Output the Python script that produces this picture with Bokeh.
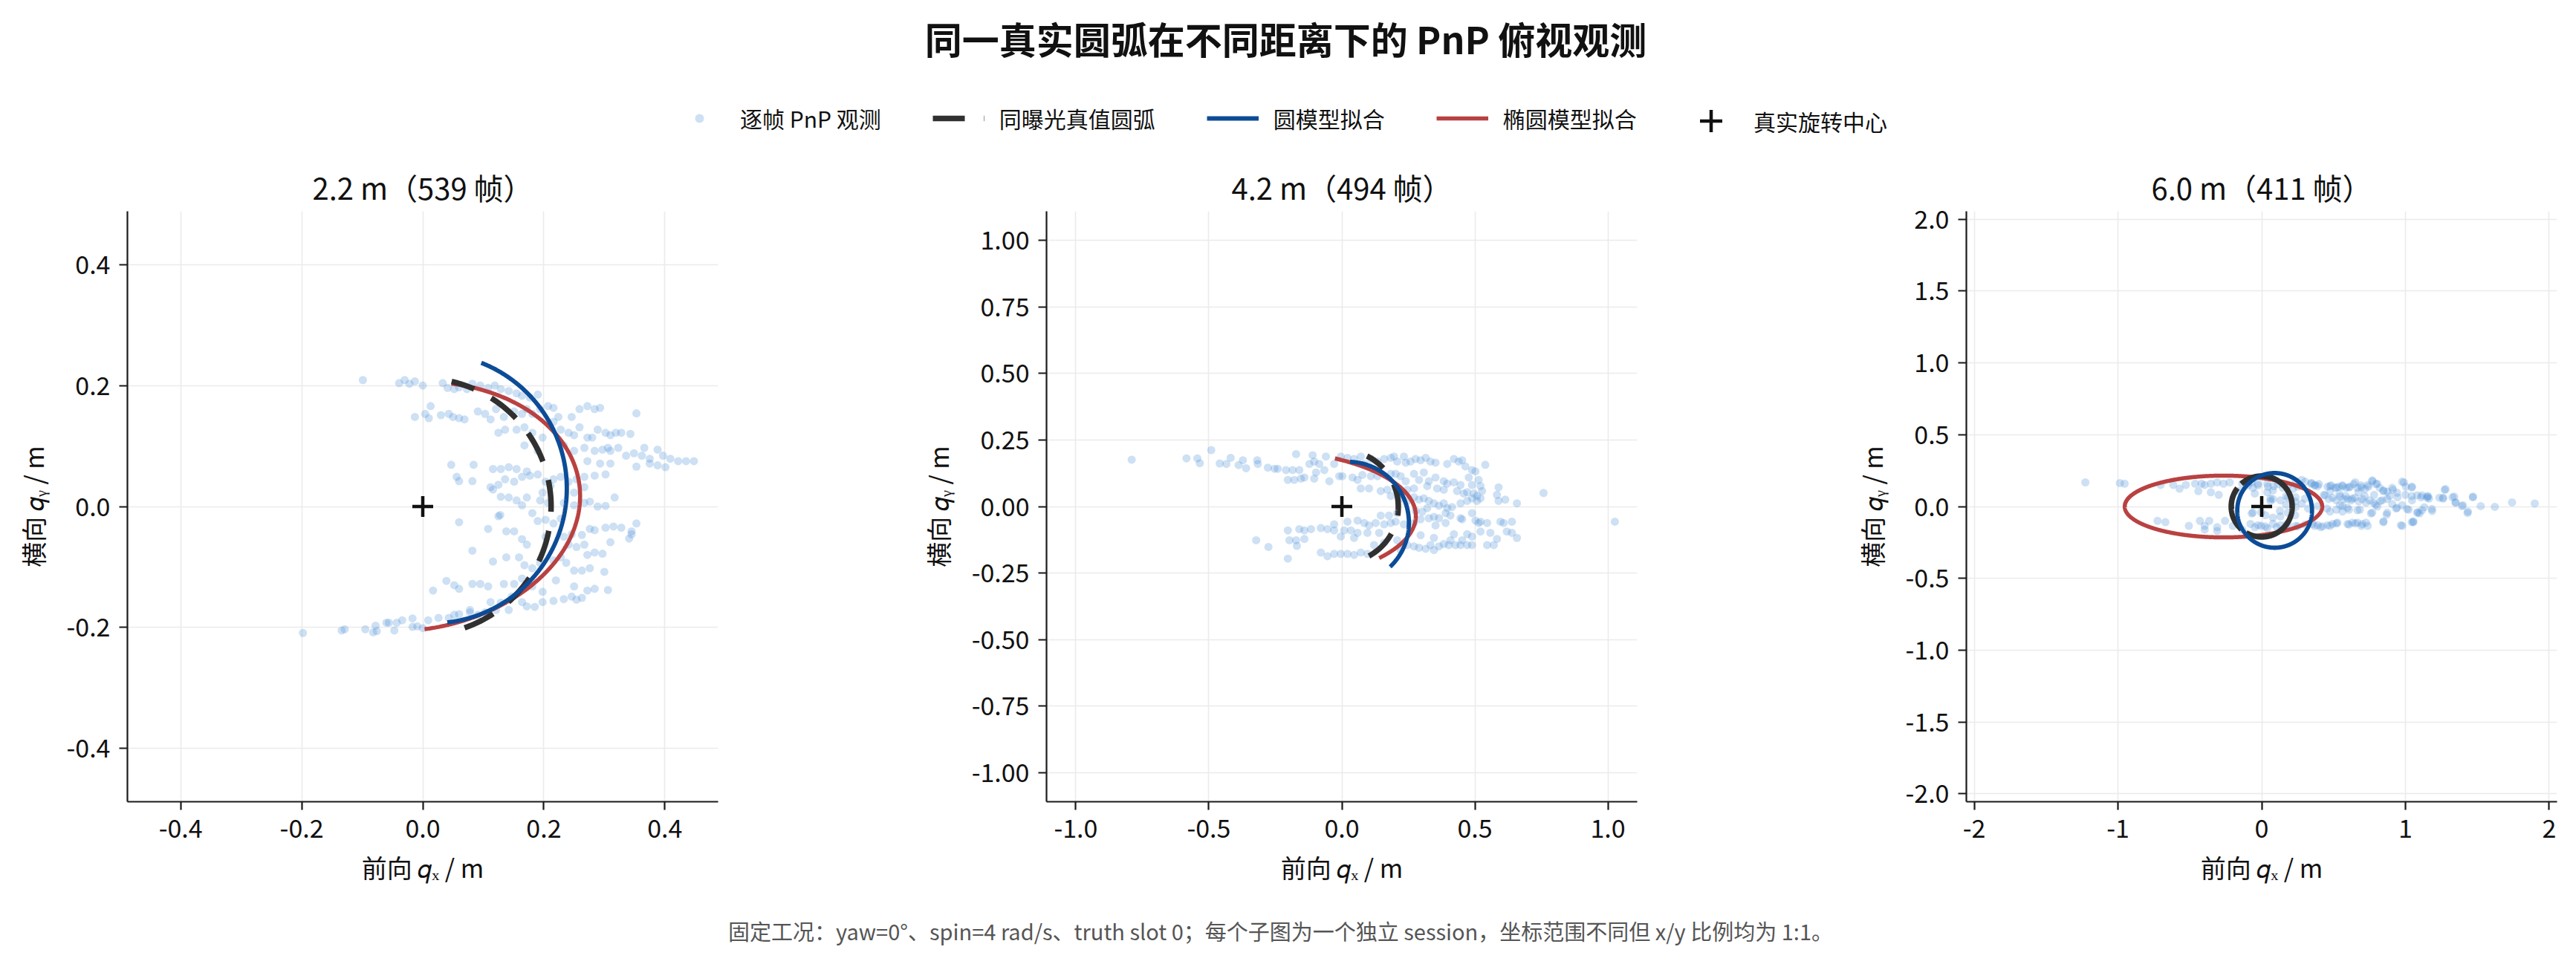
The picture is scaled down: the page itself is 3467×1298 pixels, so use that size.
import numpy as np
from bokeh.plotting import figure
from bokeh.models import (Range1d, FixedTicker, PrintfTickFormatter, Legend,
                          LegendItem, Label)
from bokeh.layouts import column, row
from bokeh.embed import file_html
from bokeh.resources import INLINE

FONT = "Noto Sans CJK SC"

# ---------------- texts ----------------
main_title = "同一真实圆弧在不同距离下的 PnP 俯视观测"
footnote = ("固定工况：yaw=0°、spin=4 rad/s、truth slot 0；每个子图为一个独立 session，"
            "坐标范围不同但 x/y 比例均为 1:1。")
panel_titles = ["2.2 m（539 帧）", "4.2 m（494 帧）", "6.0 m（411 帧）"]
legend_labels = ["逐帧 PnP 观测", "同曝光真值圆弧", "圆模型拟合", "椭圆模型拟合", "真实旋转中心"]
x_label = "前向 𝑞ₓ / m"
y_label = "横向 𝑞ᵧ / m"

# ---------------- axes ----------------
axis_limits = [0.488, 1.11, 2.055]
x_ticks = [[-0.4, -0.2, 0.0, 0.2, 0.4], [-1.0, -0.5, 0.0, 0.5, 1.0], [-2, -1, 0, 1, 2]]
y_ticks = [[-0.4, -0.2, 0.0, 0.2, 0.4],
           [-1.0, -0.75, -0.5, -0.25, 0.0, 0.25, 0.5, 0.75, 1.0],
           [-2.0, -1.5, -1.0, -0.5, 0.0, 0.5, 1.0, 1.5, 2.0]]
x_formats = ["%.1f", "%.1f", "%.0f"]
y_formats = ["%.1f", "%.2f", "%.1f"]

# ---------------- per-frame PnP observations (qx, qy) in m ----------------
obs_22m = [
    (-0.099, 0.209), (-0.039, 0.204), (-0.030, 0.209), (-0.022, 0.203), (-0.013, 0.207), (0.000, 0.200),
    (0.033, 0.204), (0.041, 0.196), (0.052, 0.194), (0.060, 0.197), (0.073, 0.194), (0.082, 0.203),
    (0.095, 0.200), (0.108, 0.196), (0.119, 0.200), (0.129, 0.194), (0.142, 0.191), (0.155, 0.187),
    (0.164, 0.183), (0.177, 0.180), (0.190, 0.185),
    (-0.013, 0.148), (0.004, 0.153), (0.010, 0.146), (0.013, 0.166), (0.030, 0.151), (0.043, 0.153),
    (0.050, 0.148), (0.060, 0.146), (0.069, 0.144), (0.091, 0.157), (0.103, 0.153), (0.112, 0.144),
    (0.121, 0.161), (0.134, 0.148), (0.151, 0.157), (0.164, 0.153), (0.172, 0.161), (0.181, 0.153),
    (0.194, 0.161), (0.207, 0.166), (0.216, 0.163), (0.224, 0.148), (0.246, 0.148), (0.259, 0.161),
    (0.272, 0.166), (0.284, 0.161), (0.293, 0.163), (0.353, 0.154),
    (0.125, 0.122), (0.136, 0.127), (0.155, 0.127), (0.168, 0.131), (0.181, 0.122), (0.198, 0.114),
    (0.216, 0.140), (0.228, 0.127), (0.241, 0.122), (0.250, 0.118), (0.259, 0.131), (0.272, 0.114),
    (0.280, 0.114), (0.289, 0.127), (0.302, 0.122), (0.310, 0.118), (0.319, 0.122), (0.328, 0.122),
    (0.343, 0.120), (0.306, 0.097),
    (0.168, 0.101), (0.190, 0.092), (0.233, 0.101), (0.250, 0.092), (0.267, 0.097), (0.284, 0.092),
    (0.297, 0.094), (0.310, 0.092), (0.323, 0.097), (0.336, 0.084), (0.349, 0.088), (0.362, 0.084),
    (0.375, 0.079), (0.388, 0.094), (0.397, 0.084), (0.409, 0.079), (0.422, 0.075), (0.435, 0.075),
    (0.448, 0.075), (0.366, 0.097), (0.272, 0.075), (0.293, 0.071), (0.310, 0.071), (0.353, 0.066),
    (0.375, 0.071), (0.388, 0.068), (0.401, 0.065), (0.047, 0.069), (0.084, 0.069), (0.116, 0.062),
    (0.129, 0.062), (0.142, 0.065), (0.155, 0.062), (0.172, 0.058),
    (0.056, 0.049), (0.060, 0.042), (0.082, 0.042), (0.112, 0.032), (0.116, 0.028), (0.125, 0.036),
    (0.136, 0.045), (0.151, 0.041), (0.164, 0.049), (0.177, 0.051), (0.190, 0.053), (0.203, 0.041),
    (0.216, 0.045), (0.228, 0.049), (0.241, 0.041), (0.254, 0.045), (0.267, 0.049), (0.284, 0.051),
    (0.302, 0.053), (0.198, 0.023), (0.211, 0.034), (0.250, 0.023), (0.267, 0.032),
    (0.129, 0.016), (0.142, 0.015), (0.155, 0.010), (0.172, 0.015), (0.194, 0.010), (0.207, 0.006),
    (0.233, 0.006), (0.250, 0.002), (0.267, 0.006), (0.276, 0.008), (0.289, 0.000), (0.302, 0.001),
    (0.317, 0.015), (0.164, 0.002), (0.181, -0.011), (0.128, -0.014),
    (0.060, -0.026), (0.108, -0.037), (0.125, -0.016), (0.138, -0.041), (0.151, -0.041), (0.190, -0.024),
    (0.203, -0.022), (0.216, -0.028), (0.228, -0.020), (0.246, -0.046), (0.263, -0.047), (0.276, -0.037),
    (0.284, -0.039), (0.302, -0.035), (0.315, -0.033), (0.328, -0.035), (0.345, -0.041), (0.353, -0.028),
    (0.341, -0.053),
    (0.082, -0.073), (0.164, -0.054), (0.172, -0.063), (0.203, -0.050), (0.233, -0.050), (0.241, -0.063),
    (0.254, -0.067), (0.267, -0.063), (0.284, -0.076), (0.297, -0.078), (0.310, -0.059), (0.345, -0.046),
    (0.116, -0.091), (0.138, -0.084), (0.159, -0.084), (0.168, -0.097), (0.181, -0.102), (0.194, -0.093),
    (0.216, -0.089), (0.228, -0.084), (0.237, -0.093), (0.250, -0.106), (0.263, -0.106), (0.276, -0.102),
    (0.300, -0.108), (0.272, -0.080),
    (0.017, -0.139), (0.039, -0.123), (0.052, -0.130), (0.060, -0.136), (0.082, -0.128), (0.095, -0.128),
    (0.108, -0.132), (0.134, -0.128), (0.151, -0.128), (0.164, -0.119), (0.181, -0.132), (0.198, -0.141),
    (0.220, -0.122), (0.250, -0.132), (0.272, -0.139), (0.284, -0.136), (0.306, -0.138),
    (0.112, -0.158), (0.129, -0.159), (0.147, -0.149), (0.164, -0.158), (0.172, -0.165), (0.185, -0.166),
    (0.198, -0.158), (0.216, -0.156), (0.233, -0.153), (0.246, -0.149), (0.254, -0.154), (0.263, -0.151),
    (0.078, -0.171), (0.121, -0.171), (0.142, -0.171),
    (-0.017, -0.185), (0.009, -0.188), (0.026, -0.184), (0.043, -0.184), (0.052, -0.179), (0.060, -0.178),
    (0.078, -0.175), (0.091, -0.179), (0.103, -0.175), (-0.078, -0.197), (-0.060, -0.192), (-0.047, -0.205),
    (-0.034, -0.188), (-0.017, -0.199), (-0.009, -0.198), (0.000, -0.201), (-0.043, -0.192), (-0.095, -0.203),
    (-0.082, -0.208), (-0.076, -0.206), (-0.056, -0.192), (-0.134, -0.205), (-0.129, -0.203), (-0.198, -0.209),
]

obs_42m = [
    (-0.790, 0.176), (-0.584, 0.181), (-0.543, 0.181), (-0.534, 0.163), (-0.491, 0.212), (-0.459, 0.162),
    (-0.434, 0.160), (-0.418, 0.183), (-0.388, 0.156), (-0.372, 0.174), (-0.360, 0.144), (-0.318, 0.174),
    (-0.316, 0.160), (-0.278, 0.146), (-0.253, 0.142), (-0.241, 0.142), (-0.210, 0.137), (-0.185, 0.137),
    (-0.172, 0.197), (-0.160, 0.137), (-0.141, 0.109), (-0.122, 0.160), (-0.110, 0.193), (-0.104, 0.169),
    (-0.097, 0.128), (-0.085, 0.160), (-0.066, 0.137), (-0.060, 0.188), (-0.029, 0.160), (-0.010, 0.114),
    (-0.004, 0.188), (0.021, 0.183), (0.046, 0.179), (0.071, 0.188), (0.084, 0.160), (0.109, 0.179),
    (0.134, 0.169), (0.159, 0.179), (0.184, 0.183), (0.196, 0.188), (0.208, 0.169), (0.233, 0.188),
    (0.240, 0.165), (0.258, 0.169), (0.277, 0.179), (0.296, 0.174), (0.315, 0.183), (0.333, 0.169),
    (0.352, 0.165), (0.396, 0.160), (0.421, 0.179), (0.439, 0.169), (0.452, 0.174), (0.464, 0.151),
    (0.489, 0.137), (0.502, 0.132), (0.539, 0.157),
    (-0.203, 0.100), (-0.179, 0.100), (-0.154, 0.105), (-0.104, 0.105), (-0.047, 0.095), (0.002, 0.114),
    (0.040, 0.109), (0.059, 0.100), (0.077, 0.119), (0.109, 0.114), (0.134, 0.114), (0.184, 0.123),
    (0.202, 0.123), (0.221, 0.114), (0.240, 0.095), (0.271, 0.123), (0.290, 0.100), (0.308, 0.128),
    (0.327, 0.095), (0.352, 0.109), (0.383, 0.095), (0.396, 0.086), (0.421, 0.091), (0.446, 0.081),
    (0.477, 0.109), (0.489, 0.081), (0.514, 0.100), (0.521, 0.077), (0.527, 0.058), (0.589, 0.072),
    (0.583, 0.044), (0.071, 0.068), (0.102, 0.068), (0.146, 0.058), (0.171, 0.063), (0.202, 0.068),
    (0.246, 0.063), (0.271, 0.068), (0.321, 0.077), (0.358, 0.068), (0.383, 0.063), (0.433, 0.058),
    (0.458, 0.049), (0.471, 0.054), (0.496, 0.049), (0.508, 0.040), (0.758, 0.051),
    (0.184, 0.040), (0.221, 0.031), (0.246, 0.021), (0.271, 0.035), (0.290, 0.026), (0.308, 0.031),
    (0.327, 0.021), (0.346, 0.012), (0.365, 0.003), (0.383, 0.012), (0.396, -0.006), (0.414, -0.002),
    (0.446, 0.012), (0.471, 0.021), (0.489, 0.031), (0.508, 0.021), (0.521, 0.031), (0.589, 0.021),
    (0.614, 0.026), (0.658, 0.012), (0.146, -0.034), (0.177, -0.034), (0.208, -0.025), (0.277, -0.016),
    (0.302, -0.020), (0.321, -0.006), (0.346, -0.039), (0.365, -0.044), (0.390, -0.025), (0.408, -0.034),
    (0.446, -0.044), (0.489, -0.025), (0.521, -0.057), (0.546, -0.062), (0.596, -0.057), (0.608, -0.062),
    (0.639, -0.057), (1.026, -0.057),
    (-0.029, -0.067), (0.021, -0.057), (0.059, -0.053), (0.084, -0.062), (0.102, -0.071), (0.127, -0.062),
    (0.159, -0.067), (0.184, -0.062), (0.202, -0.057), (0.233, -0.067), (0.271, -0.062), (0.296, -0.048),
    (0.327, -0.044), (0.352, -0.071), (0.390, -0.062), (0.452, -0.048), (0.502, -0.053), (0.514, -0.062),
    (-0.203, -0.090), (-0.160, -0.085), (-0.141, -0.090), (-0.116, -0.085), (-0.079, -0.081), (-0.054, -0.085),
    (-0.029, -0.090), (0.009, -0.090), (0.034, -0.090), (0.059, -0.099),
    (-0.322, -0.127), (-0.197, -0.127), (-0.172, -0.127), (-0.141, -0.122), (-0.004, -0.113), (0.046, -0.118),
    (0.096, -0.099), (0.140, -0.099), (0.296, -0.108), (0.346, -0.118), (0.421, -0.104), (0.471, -0.104),
    (0.489, -0.113), (0.521, -0.094), (0.558, -0.099), (0.583, -0.122), (0.620, -0.094), (0.639, -0.099),
    (0.658, -0.118), (0.408, -0.127), (0.452, -0.127),
    (-0.276, -0.152), (-0.169, -0.148), (-0.203, -0.196), (-0.079, -0.173), (-0.054, -0.187), (-0.029, -0.178),
    (-0.004, -0.178), (0.021, -0.178), (0.046, -0.182), (0.071, -0.173), (0.096, -0.178), (0.121, -0.145),
    (0.159, -0.136), (0.208, -0.127), (0.246, -0.145), (0.271, -0.150), (0.290, -0.155), (0.315, -0.159),
    (0.333, -0.145), (0.346, -0.164), (0.365, -0.150), (0.383, -0.141), (0.402, -0.145), (0.427, -0.145),
    (0.446, -0.145), (0.471, -0.145), (0.489, -0.145), (0.546, -0.145), (0.571, -0.145), (0.221, -0.164),
]

obs_60m = [
    (-1.227, 0.168), (-0.987, 0.163), (-0.954, 0.159), (-0.703, 0.150), (-0.616, 0.150), (-0.572, 0.124),
    (-0.528, 0.150), (-0.463, 0.159), (-0.419, 0.159), (-0.397, 0.150), (-0.354, 0.159), (-0.310, 0.168),
    (-0.266, 0.159), (-0.223, 0.168), (-0.135, 0.159), (-0.070, 0.168), (-0.026, 0.159), (0.039, 0.159),
    (0.083, 0.142), (0.148, 0.159), (0.236, 0.176), (0.279, 0.185), (0.345, 0.159), (0.367, 0.150),
    (0.389, 0.142), (0.476, 0.142), (0.520, 0.133), (0.563, 0.142), (0.607, 0.133), (0.651, 0.168),
    (0.694, 0.133), (0.738, 0.150), (0.771, 0.176), (0.803, 0.159), (0.847, 0.107), (0.913, 0.116),
    (0.989, 0.168), (1.044, 0.133), (1.153, 0.073), (1.273, 0.116), (1.328, 0.064), (1.469, 0.064),
    (1.742, 0.029), (1.900, 0.021), (1.622, -0.002), (1.524, 0.003), (1.432, -0.045), (1.393, 0.003),
    (1.349, 0.029), (1.262, 0.055), (1.186, -0.031), (1.164, 0.055), (1.098, -0.048), (1.044, -0.109),
    (0.978, -0.135), (0.869, -0.057), (0.847, -0.109),
    (-0.441, 0.107), (-0.354, 0.099), (-0.299, 0.081), (-0.157, 0.107), (-0.048, 0.090), (0.039, 0.099),
    (0.061, 0.055), (0.170, 0.073), (0.236, 0.064), (0.301, 0.055), (0.432, 0.081), (0.476, 0.107),
    (0.541, 0.090), (0.585, 0.073), (0.629, 0.055), (0.673, 0.099), (0.716, 0.073), (0.782, 0.081),
    (0.825, 0.038), (0.891, 0.073), (0.945, 0.064), (1.000, 0.081), (1.044, 0.073), (1.109, 0.064),
    (-0.070, -0.048), (-0.004, -0.040), (0.061, 0.038), (0.127, -0.031), (0.170, 0.012), (0.236, -0.005),
    (0.279, 0.021), (0.323, -0.014), (0.389, 0.003), (0.454, -0.014), (0.520, -0.022), (0.563, 0.003),
    (0.607, -0.022), (0.683, -0.022), (0.760, -0.048), (0.793, 0.012), (0.935, -0.014), (1.022, -0.022),
    (1.087, -0.040), (1.131, -0.005),
    (-0.725, -0.100), (-0.670, -0.109), (-0.507, -0.135), (-0.430, -0.100), (-0.397, -0.135), (-0.365, -0.100),
    (-0.310, -0.144), (-0.255, -0.100), (-0.201, -0.135), (-0.135, -0.161), (-0.048, -0.144), (-0.004, -0.135),
    (0.039, -0.152), (0.105, -0.144), (0.170, -0.126), (0.236, -0.135), (0.301, -0.126), (0.367, -0.135),
    (0.410, -0.144), (0.476, -0.135), (0.520, -0.118), (0.607, -0.126), (0.651, -0.118), (0.694, -0.135),
    (0.738, -0.135), (1.055, -0.109), (-0.397, -0.161), (-0.310, -0.170),
    # dense cluster to the right of the true centre
    (0.458, 0.138), (0.484, 0.147), (0.510, 0.130), (0.536, 0.138), (0.562, 0.147), (0.588, 0.130),
    (0.614, 0.138), (0.640, 0.156), (0.666, 0.130), (0.692, 0.147), (0.718, 0.121), (0.743, 0.138),
    (0.769, 0.182), (0.795, 0.156), (0.821, 0.130), (0.847, 0.112), (0.873, 0.104), (0.908, 0.130),
    (0.942, 0.095), (0.977, 0.173), (1.003, 0.138), (1.046, 0.138), (1.081, 0.078), (1.115, 0.078),
    (1.158, 0.069), (1.279, 0.121), (1.340, 0.069), (1.470, 0.069), (0.303, 0.173), (0.346, 0.164),
    (0.372, 0.147), (0.398, 0.156),
    (0.441, 0.078), (0.467, 0.052), (0.493, 0.061), (0.519, 0.043), (0.545, 0.069), (0.571, 0.052),
    (0.597, 0.052), (0.622, 0.043), (0.648, 0.061), (0.674, 0.035), (0.700, 0.052), (0.726, 0.026),
    (0.752, 0.043), (0.778, 0.026), (0.804, 0.000), (0.839, 0.043), (0.873, 0.052), (0.908, 0.017),
    (0.942, -0.009), (0.977, 0.009), (1.011, -0.017), (1.046, 0.043), (1.081, -0.043), (1.115, -0.026),
    (1.150, 0.061), (1.184, -0.017), (1.236, 0.061), (1.262, 0.061), (1.349, 0.026), (1.400, 0.009),
    (1.435, -0.035), (0.873, -0.043), (0.769, -0.043), (0.666, -0.026), (0.562, -0.035), (0.475, -0.035),
    (0.545, 0.009), (0.597, -0.009),
    (0.354, -0.121), (0.389, -0.130), (0.424, -0.138), (0.458, -0.130), (0.493, -0.121), (0.527, -0.112),
    (0.597, -0.121), (0.631, -0.112), (0.666, -0.112), (0.700, -0.121), (0.726, -0.112), (0.847, -0.104),
    (0.968, -0.130), (1.055, -0.104),
    # points around the true centre
    (-0.095, 0.147), (-0.061, 0.130), (-0.026, 0.147), (0.043, 0.138), (0.078, 0.112), (0.112, 0.156),
    (0.147, 0.130), (0.182, 0.147), (0.216, 0.121), (0.251, 0.138), (0.078, 0.052), (0.130, 0.043),
    (0.182, 0.061), (0.233, 0.035), (-0.061, -0.043), (0.026, -0.061), (0.078, -0.078), (0.130, -0.069),
    (0.182, -0.043), (0.233, -0.061), (-0.078, -0.121), (-0.026, -0.130), (0.026, -0.138), (0.078, -0.121),
    (0.130, -0.130), (0.182, -0.121), (0.251, -0.138),
]
observations = [obs_22m, obs_42m, obs_60m]

# ---------------- true rotation centre ----------------
center_x = [0.0, 0.0, 0.0]
center_y = [0.0, 0.0, 0.0]

# ---------------- truth arc (same exposure), circle about the true centre ----------------
truth_radius = [0.212, 0.212, 0.212]
truth_start_deg = [-71.0, -61.3, -50.0]
truth_end_deg = [77.0, 63.5, 800.0]

# ---------------- circle-model fit ----------------
circle_cx = [0.015, 0.023, 0.090]
circle_cy = [0.030, -0.061, -0.027]
circle_r = [0.223, 0.229, 0.260]
circle_start_deg = [-83.4, -46.3, 0.0]
circle_end_deg = [68.5, 88.0, 360.0]

# ---------------- ellipse-model fit ----------------
ellipse_cx = [-0.027, -0.300, -0.266]
ellipse_cy = [0.000, -0.035, 0.000]
ellipse_a = [0.288, 0.578, 0.687]
ellipse_b = [0.205, 0.245, 0.215]
ellipse_tilt_deg = [7.0, 0.0, 0.0]
ellipse_start_deg = [-89.0, -40.4, 0.0]
ellipse_end_deg = [70.0, 61.7, 360.0]

# ---------------- styles ----------------
OBS_COLOR = "#4a90d9"
TRUTH_COLOR = "#303030"
CIRCLE_COLOR = "#0c4c97"
ELLIPSE_COLOR = "#b94141"
CENTER_COLOR = "#111111"
TRUTH_DASH = "43 26"


def conic_path(cx, cy, a, b, tilt_deg, t0_deg, t1_deg):
    n = int(abs(t1_deg - t0_deg) * 3) + 2
    t = np.radians(np.linspace(t0_deg, t1_deg, n))
    phi = np.radians(tilt_deg)
    xs = cx + a * np.cos(t) * np.cos(phi) - b * np.sin(t) * np.sin(phi)
    ys = cy + a * np.cos(t) * np.sin(phi) + b * np.sin(t) * np.cos(phi)
    return xs, ys


FRAME = 795
borders = [(171, 20), (422, 20), (423, 8)]
TOTAL_W = sum(l + FRAME + r for l, r in borders)


def style_axis(ax, label, standoff):
    ax.axis_label = label
    ax.axis_line_color = "#1a1a1a"
    ax.axis_line_width = 2.2
    ax.major_tick_line_color = "#1a1a1a"
    ax.major_tick_line_width = 2.2
    ax.major_tick_out = 11
    ax.major_tick_in = 0
    ax.minor_tick_line_color = None
    ax.major_label_text_font = FONT
    ax.major_label_text_font_size = "34px"
    ax.major_label_text_color = "#111111"
    ax.major_label_standoff = 12
    ax.axis_label_text_font = FONT
    ax.axis_label_text_font_size = "34px"
    ax.axis_label_text_font_style = "normal"
    ax.axis_label_text_color = "#111111"
    ax.axis_label_standoff = standoff


panels = []
for i in range(3):
    lim = axis_limits[i]
    p = figure(frame_width=FRAME, frame_height=FRAME,
               x_range=Range1d(-lim, lim), y_range=Range1d(-lim, lim),
               toolbar_location=None, output_backend="svg",
               min_border_left=borders[i][0], min_border_right=borders[i][1],
               min_border_top=76, min_border_bottom=145,
               title=panel_titles[i])
    p.outline_line_color = None
    p.background_fill_color = "white"
    p.title.align = "center"
    p.title.text_font = FONT
    p.title.text_font_size = "40px"
    p.title.text_font_style = "normal"
    p.title.text_color = "#111111"
    p.title.standoff = 8

    p.xaxis.ticker = FixedTicker(ticks=x_ticks[i])
    p.yaxis.ticker = FixedTicker(ticks=y_ticks[i])
    p.xaxis.formatter = PrintfTickFormatter(format=x_formats[i])
    p.yaxis.formatter = PrintfTickFormatter(format=y_formats[i])
    style_axis(p.xaxis[0], x_label, 12)
    style_axis(p.yaxis[0], y_label, 18)
    p.grid.grid_line_color = "#ebebeb"
    p.grid.grid_line_width = 1.6

    ox = [pt[0] for pt in observations[i]]
    oy = [pt[1] for pt in observations[i]]
    p.scatter(ox, oy, size=11, fill_color=OBS_COLOR, fill_alpha=0.28, line_color=None)

    ex, ey = conic_path(ellipse_cx[i], ellipse_cy[i], ellipse_a[i], ellipse_b[i],
                        ellipse_tilt_deg[i], ellipse_start_deg[i], ellipse_end_deg[i])
    p.line(ex, ey, line_color=ELLIPSE_COLOR, line_width=5.5)

    tx, ty = conic_path(center_x[i], center_y[i], truth_radius[i], truth_radius[i], 0.0,
                        truth_start_deg[i], truth_end_deg[i])
    p.line(tx, ty, line_color=TRUTH_COLOR, line_width=7.5, line_dash=TRUTH_DASH)

    cxs, cys = conic_path(circle_cx[i], circle_cy[i], circle_r[i], circle_r[i], 0.0,
                          circle_start_deg[i], circle_end_deg[i])
    p.line(cxs, cys, line_color=CIRCLE_COLOR, line_width=5.8)

    p.scatter([center_x[i]], [center_y[i]], marker="cross", size=28,
              line_color=CENTER_COLOR, line_width=4.5)
    panels.append(p)

# ---------------- header: title + legend ----------------
HDR_H = 208
hdr = figure(width=TOTAL_W, height=HDR_H, x_range=Range1d(0, TOTAL_W), y_range=Range1d(HDR_H, 0),
             toolbar_location=None, output_backend="svg", x_axis_type=None, y_axis_type=None,
             min_border=0)
hdr.outline_line_color = None
hdr.add_layout(Label(x=1730, y=50, text=main_title, text_align="center",
                     text_baseline="middle", text_font=FONT, text_font_size="50px",
                     text_font_style="bold", text_color="#111111"))

# legend-only renderers (no visible data)
nan = [float("nan")]
r_obs = hdr.scatter(x=nan, y=nan, size=11, fill_color=OBS_COLOR, fill_alpha=0.28, line_color=None)
r_truth = hdr.line(x=nan, y=nan, line_color=TRUTH_COLOR, line_width=7.5, line_dash=TRUTH_DASH)
r_circle = hdr.line(x=nan, y=nan, line_color=CIRCLE_COLOR, line_width=5.8)
r_ellipse = hdr.line(x=nan, y=nan, line_color=ELLIPSE_COLOR, line_width=5.5)
r_center = hdr.scatter(x=nan, y=nan, marker="cross", size=28, line_color=CENTER_COLOR, line_width=4.5)

common = dict(orientation="horizontal", padding=0, margin=0, border_line_color=None,
              background_fill_alpha=0, label_text_font=FONT, label_text_font_size="30px",
              label_text_color="#111111", label_standoff=20, spacing=69)
leg_a = Legend(items=[LegendItem(label=legend_labels[0], renderers=[r_obs]),
                      LegendItem(label=legend_labels[1], renderers=[r_truth]),
                      LegendItem(label=legend_labels[2], renderers=[r_circle]),
                      LegendItem(label=legend_labels[3], renderers=[r_ellipse])],
               location=(906, 27), glyph_width=70, glyph_height=30, **common)
leg_b = Legend(items=[LegendItem(label=legend_labels[4], renderers=[r_center])],
               location=(2265, 8), glyph_width=75, glyph_height=75, **common)
hdr.add_layout(leg_a)
hdr.add_layout(leg_b)

# ---------------- footer ----------------
FT_H = 56
ftr = figure(width=TOTAL_W, height=FT_H, x_range=Range1d(0, TOTAL_W), y_range=Range1d(FT_H, 0),
             toolbar_location=None, output_backend="svg", x_axis_type=None, y_axis_type=None,
             min_border=0)
ftr.outline_line_color = None
ftr.add_layout(Label(x=1723, y=28, text=footnote, text_align="center",
                     text_baseline="middle", text_font=FONT, text_font_size="29px",
                     text_color="#555555"))

layout = column(hdr, row(*panels), ftr)
open("out.html", "w").write(file_html(layout, INLINE))
